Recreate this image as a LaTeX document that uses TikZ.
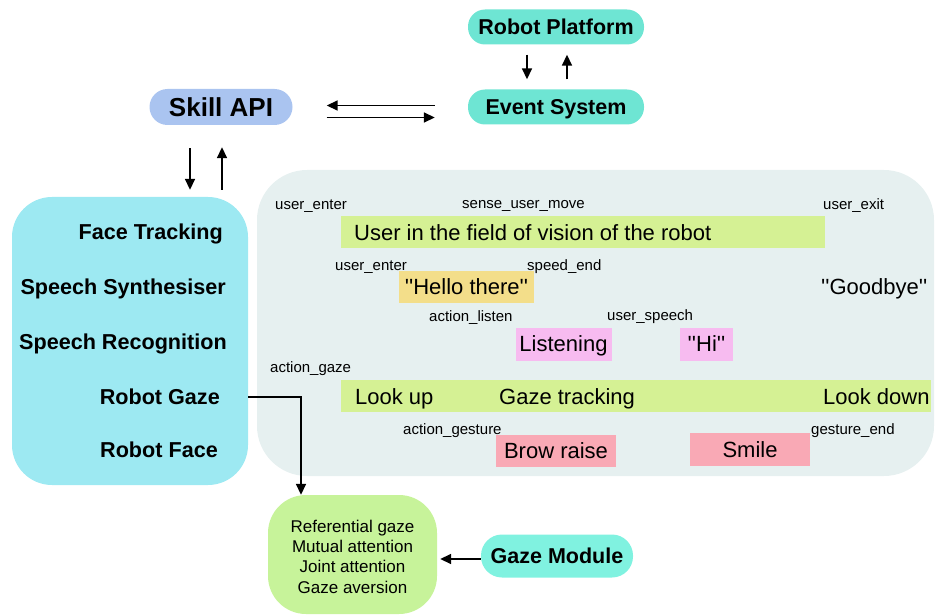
\documentclass[tikz,border=0pt]{standalone}
\usepackage{fontspec}
\newfontfamily\uifont{Liberation Sans}
\usetikzlibrary{arrows.meta,calc}

\definecolor{pillteal}{HTML}{6EE5D3}
\definecolor{moduleteal}{HTML}{80F2E0}
\definecolor{skillblue}{HTML}{AAC4F0}
\definecolor{sensorcyan}{HTML}{9DE9F2}
\definecolor{timelinegrey}{HTML}{E6F0F0}
\definecolor{bargreen}{HTML}{D5F194}
\definecolor{speechyellow}{HTML}{F3DE8A}
\definecolor{listenpink}{HTML}{F7BBF0}
\definecolor{facepink}{HTML}{F9A9B5}
\definecolor{gazegreen}{HTML}{C7F39A}

\begin{document}
\begin{tikzpicture}[x=1pt,y=-1pt,font=\uifont,
  pill/.style={inner sep=0pt,rounded corners=17pt,text height=15.2pt,text depth=0pt,
    font=\uifont\bfseries\fontsize{21.5}{25}\selectfont},
  sensorlbl/.style={inner sep=0pt,anchor=east,text height=15.3pt,text depth=0pt,
    font=\uifont\bfseries\fontsize{21.6}{25}\selectfont},
  eventlbl/.style={inner sep=0pt,anchor=west,text height=10.7pt,text depth=0pt,
    font=\uifont\fontsize{15}{18}\selectfont},
  statelbl/.style={inner sep=0pt,anchor=west,text height=15.8pt,text depth=0pt,
    font=\uifont\fontsize{22}{26}\selectfont},
  statebox/.style={inner sep=0pt,text height=15.8pt,text depth=0pt,
    font=\uifont\fontsize{22}{26}\selectfont},
  arr/.style={line width=1.7pt,-{Triangle[length=11pt,width=10pt]}}]

\useasboundingbox (0,0) rectangle (935,615);

% architecture blocks
\node[pill,fill=pillteal,minimum width=176,minimum height=35] (rp) at (556,27) {Robot Platform};
\node[pill,fill=pillteal,minimum width=176,minimum height=35] (es) at (556,107) {Event System};
\node[pill,fill=skillblue,minimum width=143,minimum height=36,rounded corners=18pt,
  text height=18.6pt,font=\uifont\bfseries\fontsize{26}{30}\selectfont] (skill) at (221,107) {Skill API};

% sensor / actuator group
\node[fill=sensorcyan,rounded corners=40pt,minimum width=236,minimum height=288,inner sep=0pt] (sensors) at (130,341) {};
\node[sensorlbl] (ft) at (223,232) {Face Tracking};
\node[sensorlbl] (ss) at (226,287) {Speech Synthesiser};
\node[sensorlbl] (sr) at (227,342) {Speech Recognition};
\node[sensorlbl] (rgz) at (220,397) {Robot Gaze};
\node[sensorlbl] (rf) at (218,450) {Robot Face};

% interaction timeline
\node[fill=timelinegrey,rounded corners=50pt,minimum width=677,minimum height=306,inner sep=0pt] (timeline) at (595.5,323) {};

\node[eventlbl] (e1) at (275,204) {user\_enter};
\node[eventlbl] (e2) at (462,203) {sense\_user\_move};
\node[eventlbl] (e3) at (823,204) {user\_exit};
\node[fill=bargreen,minimum width=484,minimum height=32,inner sep=0pt] (fovbar) at (582.5,232) {};
\node[statelbl] (fov) at (354,232.7) {User in the field of vision of the robot};

\node[eventlbl] (e4) at (335,265) {user\_enter};
\node[eventlbl] (e5) at (527,265) {speed\_end};
\node[statebox,fill=speechyellow,minimum width=135,minimum height=32] (hello) at (466.5,287) {''Hello there''};
\node[statelbl] (bye) at (821,287) {''Goodbye''};

\node[eventlbl] (e6) at (429,316) {action\_listen};
\node[eventlbl] (e7) at (607,315) {user\_speech};
\node[statebox,fill=listenpink,minimum width=96,minimum height=33] (listen) at (563.5,344) {Listening};
\node[statebox,fill=listenpink,minimum width=53,minimum height=33] (hi) at (706.5,344) {''Hi''};

\node[eventlbl] (e8) at (270,367) {action\_gaze};
\node[fill=bargreen,minimum width=590,minimum height=32,inner sep=0pt] (gazebar) at (636,396) {};
\node[statelbl] (lookup) at (355,396.7) {Look up};
\node[statelbl] (track) at (499,396.7) {Gaze tracking};
\node[statelbl] (lookdown) at (823,396.7) {Look down};

\node[eventlbl] (e9) at (403,429) {action\_gesture};
\node[eventlbl] (e10) at (811,429) {gesture\_end};
\node[statebox,fill=facepink,minimum width=120,minimum height=32] (brow) at (556,451) {Brow raise};
\node[statebox,fill=facepink,minimum width=120,minimum height=33] (smile) at (750,449.5) {Smile};

% gaze behaviours
\node[fill=gazegreen,rounded corners=38pt,minimum width=169,minimum height=119,inner sep=0pt] (gz) at (352.5,554.5) {};
\node[align=center,inner sep=0pt,font=\uifont\fontsize{17}{20.3}\selectfont] (gztext) at (352.5,556.5)
  {Referential gaze\\Mutual attention\\Joint attention\\Gaze aversion};
\node[pill,fill=moduleteal,minimum width=152,minimum height=43,rounded corners=21pt] (gm) at (557,556) {Gaze Module};

% connectors
\draw[arr] ($(rp.south)+(-29,10)$) -- ($(es.north)+(-29,-10)$);
\draw[arr] ($(es.north)+(11,-10)$) -- ($(rp.south)+(11,10)$);
\draw[arr] ($(es.west)+(-33,-1.5)$) -- ($(skill.east)+(34,-1.5)$);
\draw[arr] ($(skill.east)+(34,10.5)$) -- ($(es.west)+(-33,10.5)$);
\draw[arr] ($(skill.south)+(-31,23)$) -- ($(sensors.north)+(60,-7)$);
\draw[arr] ($(sensors.north)+(92,-7)$) -- ($(skill.south)+(1,22)$);
\draw[arr] (sensors.east |- rgz) -| ($(gz.north)+(-51.5,0)$);
\draw[arr] ($(gm.west)+(0,3)$) -- ($(gz.east)+(3,4.5)$);

\end{tikzpicture}
\end{document}
